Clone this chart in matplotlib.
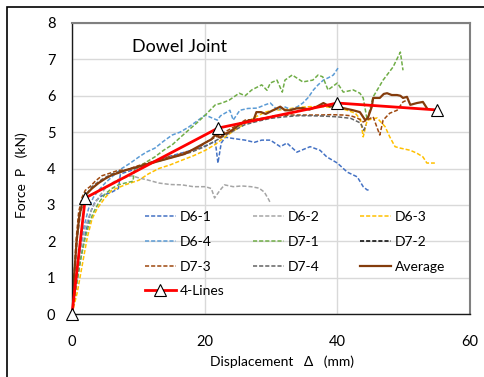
import matplotlib.pyplot as plt
from matplotlib.patches import Rectangle

plt.rcParams["font.family"] = ["Lato", "DejaVu Sans"]

# ---- data (displacement mm, force kN) ----
d61_x = [0, 0.5, 1.2, 2.0, 2.8, 3.5, 4.5, 6.0, 7.0, 7.3, 9.0, 11.0, 13.0, 15.0, 17.0, 19.0, 20.5,
         21.6, 22.0, 22.5, 23.1, 24.5, 26.1, 27.5, 28.6, 29.9, 31.4, 32.4, 33.9, 35.9, 37.4, 38.4,
         40.0, 41.5, 43.0, 43.9, 44.5, 44.9]
d61_y = [0, 0.6, 1.4, 2.2, 2.8, 3.1, 3.25, 3.35, 3.45, 3.85, 3.95, 4.1, 4.25, 4.35, 4.45, 4.55, 4.65,
         4.75, 4.15, 4.7, 4.86, 4.82, 4.78, 4.72, 4.78, 4.78, 4.6, 4.7, 4.45, 4.6, 4.5, 4.32,
         4.15, 3.9, 3.77, 3.5, 3.41, 3.41]

d62_x = [0, 0.5, 1.2, 2.0, 3.0, 4.0, 5.0, 6.0, 7.0, 8.0, 9.0, 10.1, 11.5, 13.1, 14.8, 16.6, 18.3,
         20.1, 21.0, 21.5, 22.3, 23.0, 24.3, 25.6, 27.0, 28.2, 29.0, 29.7, 29.9]
d62_y = [0, 0.8, 1.7, 2.4, 2.9, 3.2, 3.45, 3.6, 3.7, 3.75, 3.8, 3.74, 3.68, 3.6, 3.56, 3.55, 3.5,
         3.5, 3.45, 3.19, 3.4, 3.55, 3.5, 3.52, 3.5, 3.46, 3.35, 3.13, 3.05]

d63_x = [0, 0.8, 1.5, 2.3, 3.0, 3.8, 5.0, 6.0, 8.0, 10.1, 11.5, 13.1, 14.8, 16.6, 18.3, 20.1, 21.5,
         23.1, 24.5, 26.1, 27.5, 29.1, 30.3, 32.0, 34.0, 35.9, 38.0, 40.4, 41.5, 42.7, 43.5, 43.9,
         44.5, 46.0, 47.2, 47.9, 48.7, 49.5, 51.0, 52.0, 52.9, 53.5, 54.4, 54.7]
d63_y = [0, 0.6, 1.3, 2.1, 2.6, 2.9, 3.2, 3.4, 3.55, 3.68, 3.85, 4.0, 4.1, 4.23, 4.35, 4.5, 4.65,
         4.87, 5.05, 5.24, 5.4, 5.55, 5.6, 5.62, 5.68, 5.7, 5.7, 5.66, 5.6, 5.52, 5.35, 4.87,
         5.33, 5.39, 5.15, 4.87, 4.6, 4.56, 4.5, 4.42, 4.32, 4.15, 4.15, 4.15]

d64_x = [0, 0.5, 1.0, 1.8, 2.5, 3.2, 4.0, 5.0, 6.2, 7.5, 8.8, 10.1, 11.2, 12.5, 13.8, 15.1, 16.3,
         17.6, 18.8, 20.1, 21.1, 21.9, 22.4, 23.8, 24.3, 25.3, 26.5, 27.9, 29.1, 29.9, 31.0,
         32.0, 33.0, 34.0, 34.8, 35.6, 36.4, 37.1, 37.9, 38.7, 39.4, 40.1]
d64_y = [0, 0.8, 1.6, 2.4, 2.9, 3.2, 3.4, 3.6, 3.8, 4.0, 4.15, 4.32, 4.45, 4.56, 4.75, 4.92, 5.0,
         5.14, 5.3, 5.47, 5.39, 5.33, 5.45, 5.6, 5.33, 5.6, 5.65, 5.66, 5.75, 5.8, 5.6,
         5.7, 5.62, 5.7, 5.8, 5.95, 6.16, 6.3, 6.43, 6.5, 6.57, 6.76]

d71_x = [0, 0.6, 1.3, 2.0, 2.6, 3.2, 4.0, 5.0, 6.0, 7.0, 8.0, 9.2, 9.4, 10.5, 12.5, 13.8, 15.1,
         16.3, 17.6, 18.8, 20.1, 21.6, 22.6, 23.7, 25.2, 26.1, 27.1, 28.6, 29.4, 29.9, 30.9, 31.7,
         32.1, 33.2, 34.8, 36.3, 37.1, 37.8, 38.6, 40.0, 40.9, 42.4, 43.4, 43.9, 44.5, 45.4, 46.9,
         48.4, 49.5, 49.9]
d71_y = [0, 0.7, 1.5, 2.1, 2.5, 2.78, 3.05, 3.3, 3.45, 3.55, 3.6, 3.65, 3.95, 4.1, 4.32, 4.5, 4.65,
         4.85, 5.06, 5.25, 5.47, 5.75, 5.8, 5.88, 6.07, 6.0, 6.16, 6.3, 6.15, 6.35, 6.43, 6.1,
         6.43, 6.57, 6.38, 6.43, 6.57, 6.52, 6.16, 6.35, 6.1, 6.16, 6.07, 5.94, 5.33, 5.97, 6.43,
         6.79, 7.2, 6.7]

d72_x = []
d72_y = []

d73_x = [0, 0.3, 0.6, 1.0, 1.5, 2.0, 2.7, 3.5, 4.5, 5.7, 7.0, 8.3, 9.5, 11.3, 12.5, 14.0, 15.5,
         16.6, 18.0, 19.0, 20.0, 21.5, 23.0, 24.5, 26.1, 27.5, 29.1, 30.5, 32.9, 35.0, 37.4, 39.0,
         40.9, 42.0, 43.0, 43.9, 45.4, 46.4, 46.9, 47.9, 49.0, 49.9, 50.5]
d73_y = [0, 1.0, 2.0, 2.8, 3.2, 3.4, 3.5, 3.65, 3.8, 3.87, 3.95, 3.96, 4.05, 4.15, 4.2, 4.3, 4.35,
         4.42, 4.5, 4.55, 4.7, 4.85, 5.0, 5.15, 5.33, 5.35, 5.39, 5.45, 5.47, 5.47, 5.47, 5.48,
         5.47, 5.45, 5.39, 5.28, 5.42, 4.92, 5.33, 5.52, 5.6, 5.83, 5.88]

d74_x = [0, 0.4, 0.8, 1.3, 2.0, 3.0, 4.5, 6.0, 8.0, 10.0, 12.0, 14.0, 16.0, 18.0, 20.0, 22.0, 24.0,
         26.0, 28.0, 30.0, 32.0, 34.0, 36.0, 38.0, 40.0, 42.0, 43.5, 44.0, 44.3]
d74_y = [0, 1.1, 2.1, 2.8, 3.25, 3.5, 3.7, 3.85, 3.95, 4.05, 4.15, 4.25, 4.35, 4.45, 4.6, 4.8, 5.0,
         5.2, 5.3, 5.38, 5.42, 5.45, 5.45, 5.44, 5.42, 5.38, 5.25, 5.05, 5.2]

avg_x = [0, 0.3, 0.7, 1.1, 1.6, 2.2, 3.0, 4.0, 5.0, 6.0, 7.0, 8.0, 9.0, 10.0, 11.0, 12.0, 13.0,
         14.0, 15.0, 16.0, 17.0, 18.0, 19.0, 20.0, 21.0, 21.6, 22.3, 23.0, 23.7, 24.5, 25.2, 26.7,
         27.3, 27.8, 28.5, 29.2, 30.3, 31.4, 32.1, 32.9, 33.8, 34.8, 35.8, 36.9, 37.9, 38.9, 39.5,
         40.9, 42.4, 43.4, 44.2, 44.6, 45.2, 45.4, 46.4, 47.0, 47.5, 48.2, 49.0, 49.5, 49.9, 50.5,
         51.0, 52.0, 52.9, 53.5]
avg_y = [0, 1.0, 2.0, 2.7, 3.1, 3.3, 3.45, 3.6, 3.72, 3.82, 3.88, 3.95, 4.0, 4.05, 4.1, 4.15, 4.2,
         4.25, 4.3, 4.35, 4.4, 4.5, 4.6, 4.7, 4.8, 4.92, 4.85, 4.95, 5.0, 5.1, 5.2, 5.33,
         5.3, 5.55, 5.55, 5.5, 5.6, 5.7, 5.6, 5.6, 5.65, 5.66, 5.62, 5.7, 5.8, 5.7, 5.72,
         5.66, 5.6, 5.55, 5.33, 5.39, 5.7, 5.94, 5.94, 6.05, 6.07, 6.02, 6.02, 6.0, 5.94, 5.97,
         5.75, 5.8, 5.83, 5.66]

four_x = [0, 2.0, 22.0, 40.0, 55.0]
four_y = [0, 3.19, 5.11, 5.80, 5.61]

series = [
    ("D6-1", d61_x, d61_y, "#4472C4"),
    ("D6-2", d62_x, d62_y, "#A5A5A5"),
    ("D6-3", d63_x, d63_y, "#FFC000"),
    ("D6-4", d64_x, d64_y, "#5B9BD5"),
    ("D7-1", d71_x, d71_y, "#70AD47"),
    ("D7-2", d72_x, d72_y, "#000000"),
    ("D7-3", d73_x, d73_y, "#9E480E"),
    ("D7-4", d74_x, d74_y, "#636363"),
]

fig = plt.figure(figsize=(4.84, 3.77), dpi=100)
ax = fig.add_axes([72 / 484, 63 / 377, 398 / 484, 291 / 377])

handles = {}
for name, xs, ys, col in series:
    (h,) = ax.plot(xs, ys, color=col, lw=1.1, linestyle=(0, (2.7, 1.3)), label=name)
    handles[name] = h
(h,) = ax.plot(avg_x, avg_y, color="#843C0C", lw=1.6, label="Average")
handles["Average"] = h
(h,) = ax.plot(four_x, four_y, color="#FF0000", lw=2.0, marker="^", markersize=9,
               markerfacecolor="white", markeredgecolor="black", markeredgewidth=0.8,
               label="4-Lines", zorder=5, clip_on=False)
handles["4-Lines"] = h

ax.set_xlim(0, 60)
ax.set_ylim(0, 8)
ax.set_xticks([0, 20, 40, 60])
ax.set_yticks(range(9))
ax.grid(True, color="#D9D9D9", lw=1.0)
ax.set_axisbelow(True)
ax.tick_params(length=0, labelsize=10.5)
ax.tick_params(axis="x", pad=15)
ax.tick_params(axis="y", pad=12)
for s in ["left", "bottom"]:
    ax.spines[s].set_color("#1A1A1A")
    ax.spines[s].set_linewidth(1.0)
for s in ["top", "right"]:
    ax.spines[s].set_color("#808080")
    ax.spines[s].set_linewidth(1.5)

ax.text(0.271, 0.918, "Dowel Joint", transform=ax.transAxes, ha="center", va="center", fontsize=13)
fig.text(22 / 484, 1 - 175 / 377, "Force  P   (kN)", rotation=90, ha="center", va="center", fontsize=10)
fig.text(282 / 484, 1 - 362 / 377, "Displacement   Δ   (mm)", ha="center", va="center", fontsize=10)

# legend in three fixed columns, like the spreadsheet legend
columns = [
    (145, ["D6-1", "D6-4", "D7-3", "4-Lines"]),
    (253, ["D6-2", "D7-1", "D7-4"]),
    (360, ["D6-3", "D7-2", "Average"]),
]
for px, names in columns:
    leg = fig.legend([handles[n] for n in names], names, loc="upper left",
                     bbox_to_anchor=(px / 484, 1 - 211 / 377), frameon=False, fontsize=10,
                     borderpad=0, borderaxespad=0, handlelength=2.2, handletextpad=0.3,
                     labelspacing=0.92)

fig.add_artist(Rectangle((7 / 484, -0.05), 1.2, 1.05 - 7 / 377, transform=fig.transFigure,
                         fill=False, edgecolor="black", lw=1.2))

fig.savefig("out.png", dpi=100)
